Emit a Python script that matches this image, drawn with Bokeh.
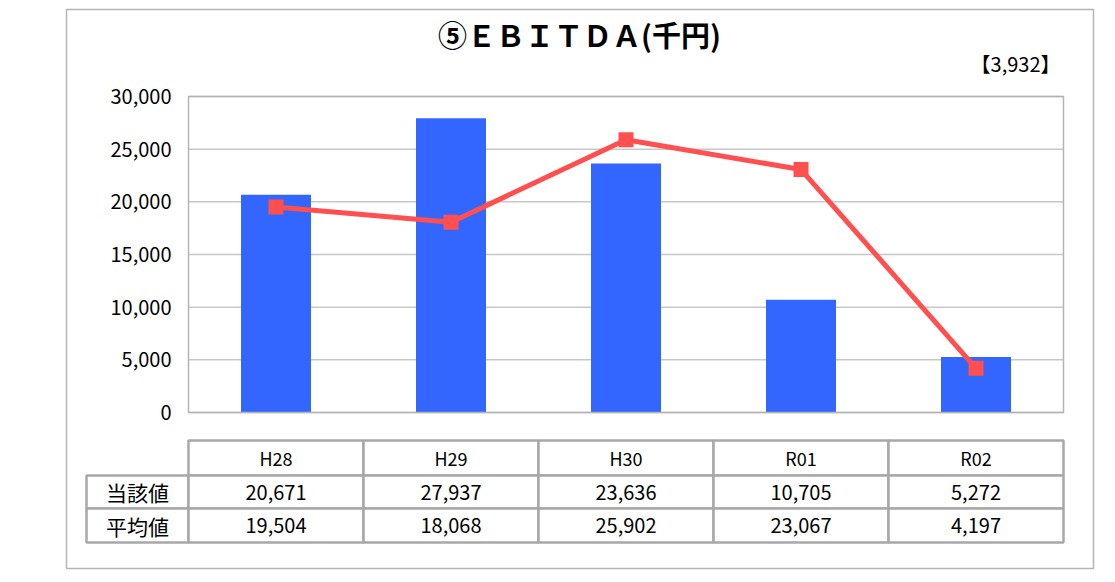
from bokeh.plotting import figure
from bokeh.models import ColumnDataSource, Range1d, LinearAxis, FixedTicker, NumeralTickFormatter
from bokeh.core.properties import value
from bokeh.embed import file_html
from bokeh.resources import INLINE

# ---------------- data ----------------
categories = ["H28", "H29", "H30", "R01", "R02"]
current_values = [20671, 27937, 23636, 10705, 5272]   # 当該値 (bars)
average_values = [19504, 18068, 25902, 23067, 4197]   # 平均値 (line)
row_labels = ["当該値", "平均値"]
y_ticks = [0, 5000, 10000, 15000, 20000, 25000, 30000]
title_text = "⑤ＥＢＩＴＤＡ(千円)"
note_text = "【3,932】"

# ---------------- layout (page pixels) ----------------
FONT = "Noto Sans CJK JP"
W, H = 1105, 574
OX, OY = 0, 0
PA_L, PA_R, PA_T, PA_B = 188, 1063, 96, 412
n = len(categories)
ux = (PA_R - PA_L) / n
x_start = -0.5 - (PA_L - OX) / ux
x_end = (n - 0.5) + (OX + W - PA_R) / ux
ymax = y_ticks[-1]
ky = ymax / (PA_B - PA_T)
y_start = -(OY + H - PA_B) * ky
y_end = ymax + (PA_T - OY) * ky

p = figure(width=W, height=H, x_range=Range1d(x_start, x_end),
           y_range=Range1d(y_start, y_end), output_backend="svg",
           toolbar_location=None, min_border=0,
           x_axis_type=None, y_axis_type=None)
p.extra_x_ranges = {"px": Range1d(OX, OX + W)}
p.extra_y_ranges = {"py": Range1d(OY + H, OY)}
p.outline_line_color = None
p.background_fill_color = "white"
p.border_fill_color = "white"

# outer frame
p.quad(left=[66], right=[1093], top=[9], bottom=[568], x_range_name="px", y_range_name="py",
       fill_color=None, line_color="#b4b4b4", line_width=1.5)

# title + note
p.text(x=[579], y=[33], text=[title_text], x_range_name="px", y_range_name="py",
       text_font=value(FONT), text_font_size="29px", text_font_style="bold",
       text_align="center", text_baseline="middle", text_color="#000000")
p.text(x=[1060], y=[63], text=[note_text], x_range_name="px", y_range_name="py",
       text_font=value(FONT), text_font_size="20px",
       text_align="right", text_baseline="middle", text_color="#000000")

# grid lines
p.segment(x0=[-0.5] * len(y_ticks), x1=[n - 0.5] * len(y_ticks), y0=y_ticks, y1=y_ticks,
          line_color="#c8c8c8", line_width=1.5)

# bars
xs = list(range(n))
p.vbar(x=xs, top=current_values, width=0.4, bottom=0, fill_color="#3366ff", line_color=None)

# plot-area box
p.quad(left=[-0.5], right=[n - 0.5], bottom=[0], top=[ymax], fill_color=None,
       line_color="#b4b4b4", line_width=1.5)

# average line
p.line(x=xs, y=average_values, line_color="#ff4f4f", line_width=5)
p.scatter(x=xs, y=average_values, marker="square", size=15, fill_color="#ff4f4f", line_color=None)

# y axis
yaxis = LinearAxis(ticker=FixedTicker(ticks=y_ticks), formatter=NumeralTickFormatter(format="0,0"),
                   fixed_location=-0.5, axis_line_color=None, major_tick_line_color=None,
                   minor_tick_line_color=None, major_tick_out=0, major_tick_in=0,
                   major_label_standoff=17, major_label_text_font=FONT,
                   major_label_text_font_size="20px", major_label_text_color="#000000")
p.add_layout(yaxis, "left")

# ---------------- table ----------------
row_tops = [440, 475, 508]
row_bots = [475, 508, 542]
label_left = -0.5 - (PA_L - 86) / ux
cells = dict(left=[], right=[], top=[], bottom=[])
for i in range(n):
    cells["left"].append(i - 0.5); cells["right"].append(i + 0.5)
    cells["top"].append(row_tops[0]); cells["bottom"].append(row_bots[0])
for r in range(2):
    cells["left"].append(label_left); cells["right"].append(-0.5)
    cells["top"].append(row_tops[r + 1]); cells["bottom"].append(row_bots[r + 1])
    for i in range(n):
        cells["left"].append(i - 0.5); cells["right"].append(i + 0.5)
        cells["top"].append(row_tops[r + 1]); cells["bottom"].append(row_bots[r + 1])
p.quad(source=ColumnDataSource(cells), y_range_name="py", fill_color="white",
       line_color="#a8a8a8", line_width=2.5)

cy = [(t + b) / 2 for t, b in zip(row_tops, row_bots)]
p.text(x=xs, y=[cy[0]] * n, text=categories, y_range_name="py",
       text_font=value(FONT), text_font_size="18px", text_align="center",
       text_baseline="middle", text_color="#000000")
p.text(x=xs, y=[cy[1]] * n, text=[f"{v:,}" for v in current_values], y_range_name="py",
       text_font=value(FONT), text_font_size="20px", text_align="center",
       text_baseline="middle", text_color="#000000")
p.text(x=xs, y=[cy[2]] * n, text=[f"{v:,}" for v in average_values], y_range_name="py",
       text_font=value(FONT), text_font_size="20px", text_align="center",
       text_baseline="middle", text_color="#000000")
p.text(x=[(label_left - 0.5) / 2] * 2, y=cy[1:], text=row_labels, y_range_name="py",
       text_font=value(FONT), text_font_size="21px", text_align="center",
       text_baseline="middle", text_color="#000000")

open("out.html", "w").write(file_html(p, INLINE))
